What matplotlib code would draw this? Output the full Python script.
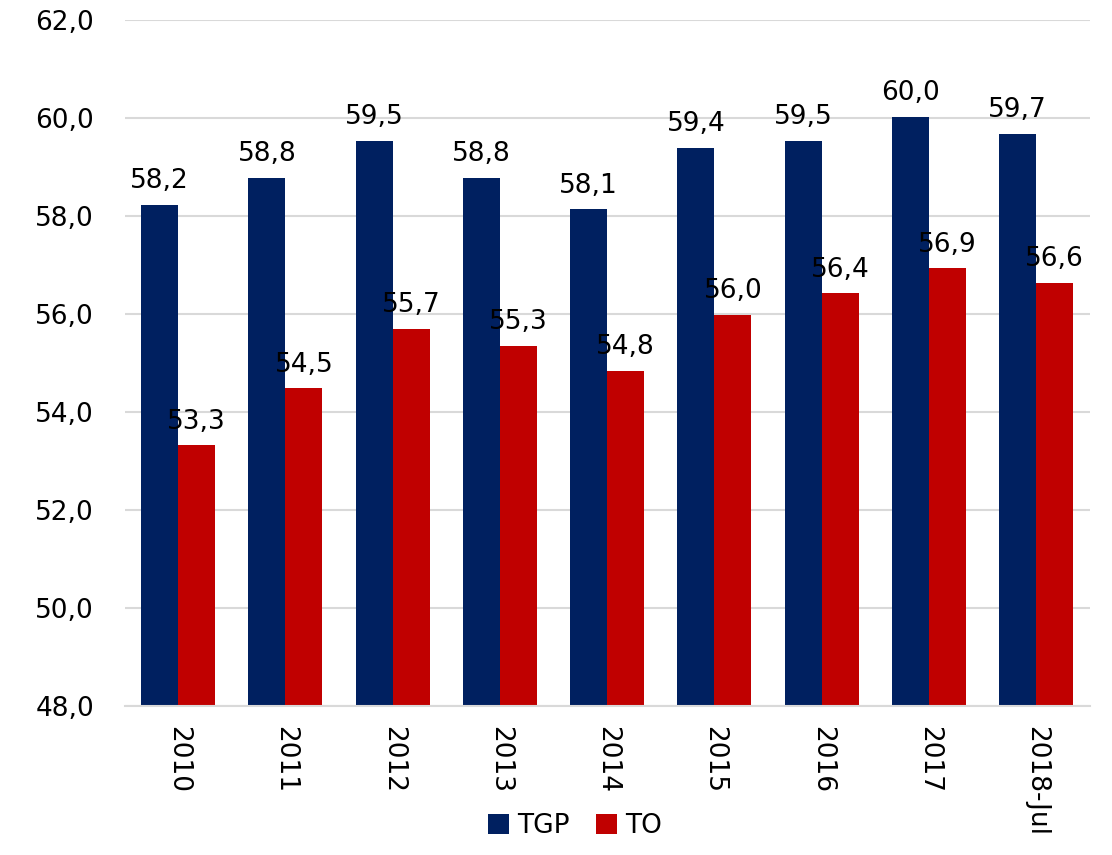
import numpy as np
import matplotlib
matplotlib.use("Agg")
import matplotlib.pyplot as plt

plt.rcParams["font.family"] = ["DejaVu Sans"]

years = ["2010", "2011", "2012", "2013", "2014", "2015", "2016", "2017", "2018-Jul"]
tgp = [58.23, 58.77, 59.53, 58.78, 58.13, 59.38, 59.52, 60.02, 59.67]
to = [53.32, 54.48, 55.69, 55.34, 54.84, 55.98, 56.42, 56.93, 56.63]

navy = "#002060"
red = "#C00000"

fig = plt.figure(figsize=(11.12, 8.55), dpi=100)
ax = fig.add_axes([0.112, 0.174, 0.868, 0.803])

x = np.arange(len(years))
w = 0.345
b1 = ax.bar(x - w / 2, tgp, w, color=navy, label="TGP", zorder=2)
b2 = ax.bar(x + w / 2, to, w, color=red, label="TO", zorder=2)

for bars, vals in [(b1, tgp), (b2, to)]:
    for bar, v in zip(bars, vals):
        ax.text(bar.get_x() + bar.get_width() / 2, v + 0.22,
                f"{v:.1f}".replace(".", ","), ha="center", va="bottom",
                fontsize=19, zorder=3)

ax.set_ylim(48, 62)
ax.set_xlim(-0.5, len(years) - 0.5)
ax.set_yticks(np.arange(48, 62.1, 2))
ax.set_yticklabels([f"{t:.1f}".replace(".", ",") for t in np.arange(48, 62.1, 2)])
ax.set_xticks(x)
ax.set_xticklabels(years, rotation=-90, va="top", ha="center")
ax.tick_params(axis="both", length=0, labelsize=19)
ax.tick_params(axis="y", pad=22)
ax.tick_params(axis="x", pad=14)

ax.grid(axis="y", color="#D9D9D9", linewidth=1.5, zorder=0)
for s in ["top", "right", "left"]:
    ax.spines[s].set_visible(False)
ax.spines["bottom"].set_color("#D9D9D9")
ax.spines["bottom"].set_linewidth(1.5)

fig.legend(loc="center", bbox_to_anchor=(0.517, 0.034), ncol=2, frameon=False,
           fontsize=19, handlelength=0.8, handleheight=0.8, handletextpad=0.3,
           columnspacing=1.0)

fig.savefig("out.png", dpi=100)
